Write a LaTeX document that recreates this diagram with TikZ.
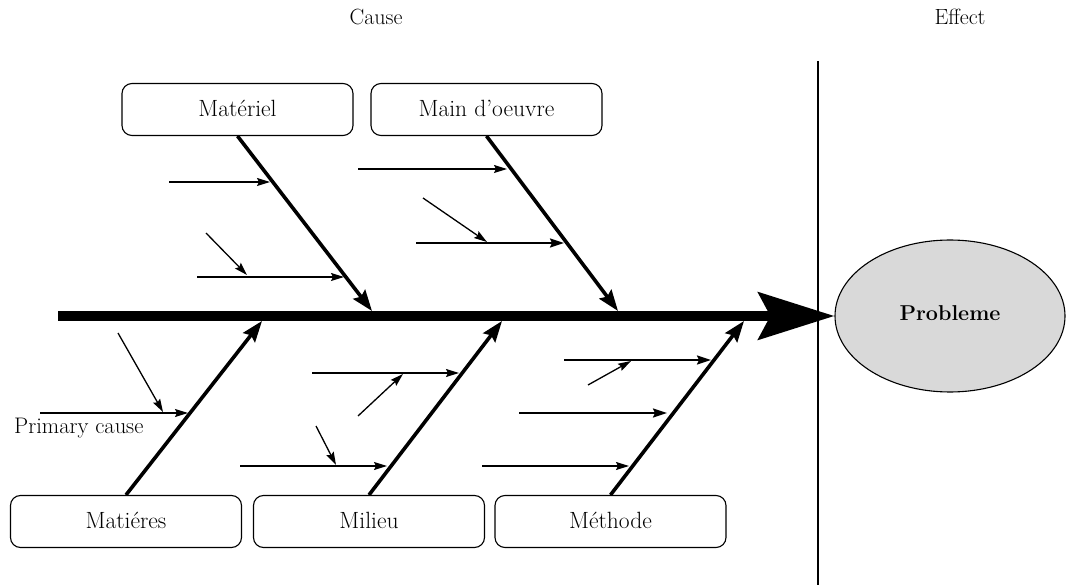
\documentclass[tikz,border=0pt]{standalone}
\usetikzlibrary{arrows.meta,shapes.geometric}
\begin{document}
\begin{tikzpicture}[x=1pt,y=-1pt,
  catbox/.style={draw,rounded corners=10pt,line width=1.1pt,minimum width=231pt,minimum height=52pt,inner sep=0pt,font=\fontsize{23.5}{26}\selectfont},
  bone/.style={line width=3.6pt,-{Stealth[length=21pt,width=15pt,inset=3pt]}},
  sub/.style={line width=1.3pt,-{Stealth[length=13pt,width=8pt,inset=2pt]}},
  subm/.style={line width=2pt,-{Stealth[length=14pt,width=9pt,inset=2pt]}},
  head/.style={font=\fontsize{22}{24}\selectfont}
]
\useasboundingbox (0,0) rectangle (1066,585);

% headings and divider
\node[head] (cause) at (376,17) {Cause};
\node[head] (effect) at (960,17) {Effect};
\coordinate (divtop) at (818,61);
\coordinate (divbot) at (818,585);
\draw[line width=1.3pt] (divtop) -- (divbot);

% effect
\node[draw,ellipse,fill={rgb,255:red,217;green,217;blue,217},line width=1.1pt,
  minimum width=230pt,minimum height=152pt,inner sep=0pt,
  font=\fontsize{21.5}{24}\selectfont\bfseries] (prob) at (950,316) {\raisebox{6pt}{Probleme}};

% spine
\coordinate (tail) at (58,316);
\draw[line width=10pt,-{Stealth[length=76pt,width=47pt,inset=12pt]}] (tail) -- (prob.west);

% category boxes
\node[catbox] (mat) at (237.5,109.5) {\raisebox{3pt}{Matériel}};
\node[catbox] (main) at (486.5,109.5) {\raisebox{3pt}{Main d'oeuvre}};
\node[catbox] (matr) at (126,521.5) {\raisebox{3pt}{Matiéres}};
\node[catbox] (mil) at (369,521.5) {\raisebox{3pt}{Milieu}};
\node[catbox] (meth) at (610.5,521.5) {\raisebox{3pt}{Méthode}};

% bone tips on the spine
\coordinate (tmat) at (372,311);
\coordinate (tmain) at (618,311);
\coordinate (tmatr) at (262,321);
\coordinate (tmil) at (502,321);
\coordinate (tmeth) at (744,321);

\draw[bone] (mat.south) -- (tmat);
\draw[bone] (main.south) -- (tmain);
\draw[bone] (matr.north) -- (tmatr);
\draw[bone] (mil.north) -- (tmil);
\draw[bone] (meth.north) -- (tmeth);

% Materiel causes
\coordinate (a1s) at (169,182); \coordinate (a1e) at (270,182);
\coordinate (a2s) at (197,277); \coordinate (a2e) at (344,277);
\coordinate (a3s) at (206,233); \coordinate (a3e) at (247,275);
\draw[sub] (a1s) -- (a1e);
\draw[sub] (a2s) -- (a2e);
\draw[sub] (a3s) -- (a3e);

% Main d'oeuvre causes
\coordinate (b1s) at (358,169); \coordinate (b1e) at (507,169);
\coordinate (b2s) at (416,243); \coordinate (b2e) at (564,243);
\coordinate (b3s) at (423,198); \coordinate (b3e) at (487,242);
\draw[sub] (b1s) -- (b1e);
\draw[subm] (b2s) -- (b2e);
\draw[sub] (b3s) -- (b3e);

% Matieres causes
\coordinate (c1s) at (40,413); \coordinate (c1e) at (188,413);
\coordinate (c2s) at (118,333); \coordinate (c2e) at (163,412);
\draw[sub] (c1s) -- (c1e);
\draw[sub] (c2s) -- (c2e);
\node[anchor=west,inner sep=0pt,font=\fontsize{22.5}{24}\selectfont] (pc) at (14,428) {Primary cause};

% Milieu causes
\coordinate (d1s) at (312,373); \coordinate (d1e) at (459,373);
\coordinate (d2s) at (358,416); \coordinate (d2e) at (403,374);
\coordinate (d3s) at (240,466); \coordinate (d3e) at (387,466);
\coordinate (d4s) at (316,426); \coordinate (d4e) at (336,465);
\draw[sub] (d1s) -- (d1e);
\draw[sub] (d2s) -- (d2e);
\draw[sub] (d3s) -- (d3e);
\draw[sub] (d4s) -- (d4e);

% Methode causes
\coordinate (e1s) at (564,360); \coordinate (e1e) at (711,360);
\coordinate (e2s) at (588,385); \coordinate (e2e) at (631,361);
\coordinate (e3s) at (519,413); \coordinate (e3e) at (667,413);
\coordinate (e4s) at (482,466); \coordinate (e4e) at (629,466);
\draw[subm] (e1s) -- (e1e);
\draw[sub] (e2s) -- (e2e);
\draw[subm] (e3s) -- (e3e);
\draw[sub] (e4s) -- (e4e);
\end{tikzpicture}
\end{document}
